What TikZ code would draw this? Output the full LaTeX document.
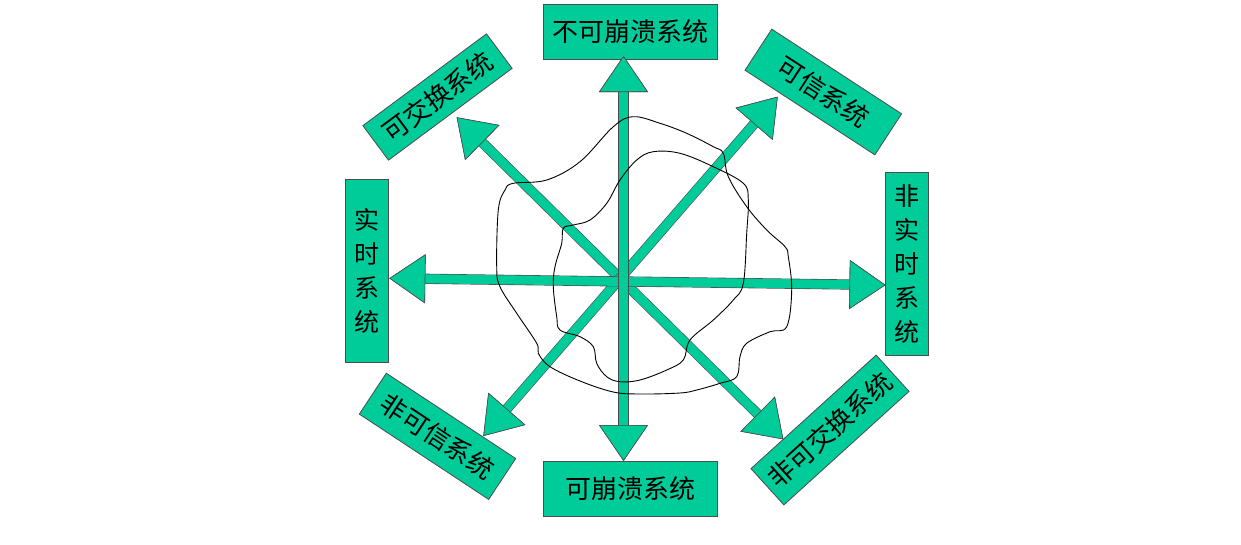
\documentclass[tikz,border=0pt]{standalone}
\usepackage{fontspec}
\newfontfamily\cjk{Noto Sans CJK SC}
\usetikzlibrary{arrows.meta}
\usepackage{xcolor}
\definecolor{sysgreen}{RGB}{0,204,153}
\colorlet{edgegray}{black!70}
\newcommand{\boxfont}{\cjk\fontsize{26}{34}\selectfont}
\newcommand{\colfont}{\cjk\fontsize{25}{34}\selectfont}
\tikzset{
    headtip/.tip={Triangle[length=36pt,width=49pt,color=edgegray,fill=sysgreen,line width=0.6pt]},
    boxsty/.style={draw=edgegray,fill=sysgreen,line width=0.8pt,rectangle,inner sep=0pt,font=\boxfont,align=center},
    hboxsty/.style={boxsty,minimum width=174pt,minimum height=55pt},
    vboxsty/.style={boxsty,minimum width=43pt,minimum height=183pt,font=\colfont},
    arrsty/.style={line width=9pt,draw=sysgreen,headtip-headtip,
                   preaction={draw=edgegray,line width=10.2pt}},
    blobsty/.style={black,line width=0.9pt},
}

\begin{document}
\begin{tikzpicture}[x=1pt,y=-1pt]
\useasboundingbox (0,0) rectangle (1241,544);

% the eight systems
\node[hboxsty] (nocrash) at (630,32) {不可崩溃系统};
\node[hboxsty] (crash) at (630,489) {可崩溃系统};
\node[vboxsty] (rt) at (367.3,271) {实\\时\\系\\统};
\node[vboxsty] (nrt) at (907.3,264) {非\\实\\时\\系\\统};
\node[boxsty,rotate=36.6,minimum width=154pt,minimum height=43pt] (exch) at (437.5,97) {可交换系统};
\node[boxsty,rotate=-33.1,minimum width=155pt,minimum height=49pt] (trust) at (823.3,92) {可信系统};
\node[boxsty,rotate=-33.4,minimum width=155pt,minimum height=49pt] (ntrust) at (437.5,436.3) {非可信系统};
\node[boxsty,rotate=42.2,minimum width=169pt,minimum height=49pt] (nexch) at (830,430) {非可交换系统};

% arrow tips
\coordinate (upT) at (623.5,56);
\coordinate (dnT) at (623.5,461);
\coordinate (ltT) at (389.3,278.3);
\coordinate (rtT) at (885.5,285);
\coordinate (ulT) at (456.7,117.3);
\coordinate (lrT) at (783.3,439.3);
\coordinate (urT) at (777.7,96.7);
\coordinate (llT) at (483.3,436);

\draw[arrsty] (ulT) -- (lrT);
\draw[arrsty] (urT) -- (llT);
\draw[arrsty] (ltT) -- (rtT);
\draw[arrsty] (upT) -- (dnT);

% outer blob
\draw[blobsty] plot[smooth cycle,tension=0.6] coordinates {
  (633.3,116.7) (660,123.3) (686.7,133.3) (713.3,146.7) (723.3,153.3)
  (728.3,176.7) (746.7,206.7) (766.7,230) (785,246.7) (788.3,256.7)
  (791.7,290) (786.7,326.7) (770,331.7) (746.7,343.3) (740,356.7)
  (736.7,376.7) (720,383.3) (696.7,390) (680,393) (640,394)
  (613.3,392) (580,381) (550,366.7) (538.3,353.3) (536.7,343.3)
  (516.7,313.3) (500,286.7) (496.7,266.7) (498.3,210) (505,190)
  (513.3,183.3) (546.7,180) (580,161.7) (613.3,126.7)};
% inner blob
\draw[blobsty] plot[smooth cycle,tension=0.6] coordinates {
  (653.3,151.7) (680,153.3) (713.3,166.7) (743.3,183.3) (748.3,200)
  (746.7,233.3) (743.3,283.3) (733.3,300) (713.3,320) (690,340)
  (683.3,360) (666.7,370) (640,380) (620,381.7) (606.7,376.7)
  (596.7,363.3) (593.3,346.7) (580,336.7) (560,330) (556.7,316.7)
  (553.3,286.7) (555,266.7) (561.7,243.3) (563.3,228.3) (573.3,225)
  (590,220) (606.7,203.3) (620,180) (636.7,160)};
\end{tikzpicture}
\end{document}
